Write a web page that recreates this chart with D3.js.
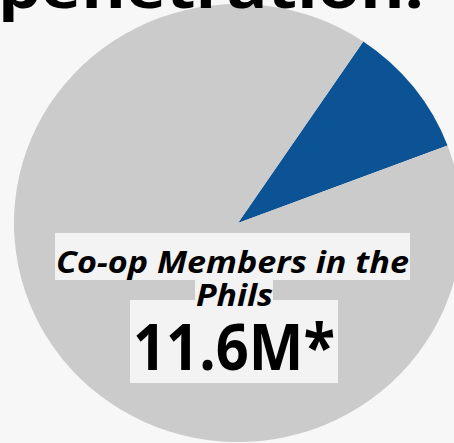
<!DOCTYPE html>
<html>
<head>
<meta charset="utf-8">
<script src="https://cdn.jsdelivr.net/npm/d3@7"></script>
<style>
  html, body { margin: 0; padding: 0; background: #f7f7f7; overflow: hidden; }
  svg { display: block; }
</style>
</head>
<body>
<svg id="chart" width="454" height="443"></svg>
<script>
// Data
const categories = ["Co-op Members", "Others"];
const values = [9.8, 90.2];
const colors = ["#0b5394", "#cbcbcb"];
const titleText = "penetration.";
const labelLines = ["Co-op Members in the", "Phils"];
const bigValue = "11.6M*";

const svg = d3.select("#chart");
const W = 454, H = 443;
svg.append("rect").attr("width", W).attr("height", H).attr("fill", "#f7f7f7");

const cx = 238, cy = 223, R = 219;
const deg = Math.PI / 180;
const startA = 34 * deg;

const pie = d3.pie().sort(null).startAngle(startA).endAngle(startA + 2 * Math.PI);
const arc = d3.arc().innerRadius(0).outerRadius(R);
const color = d3.scaleOrdinal().domain(categories).range(colors);

const data = categories.map((c, i) => ({ cat: c, v: values[i] }));

const g = svg.append("g").attr("transform", `translate(${cx},${cy}) scale(1.023,1)`);
g.selectAll("path")
  .data(pie.value(d => d.v)(data))
  .join("path")
  .attr("d", arc)
  .attr("fill", d => color(d.data.cat));

// Title (cut off at top)
svg.append("text")
  .attr("x", -2).attr("y", 8)
  .attr("font-family", "'Open Sans', sans-serif")
  .attr("font-weight", 700)
  .attr("font-size", 58)
  .attr("textLength", 426)
  .attr("lengthAdjust", "spacingAndGlyphs")
  .attr("fill", "#000")
  .text(titleText);

// Label boxes
const boxFill = "#f3f3f3";
svg.append("rect").attr("x", 55).attr("y", 233).attr("width", 355).attr("height", 47).attr("fill", boxFill);
svg.append("rect").attr("x", 195).attr("y", 280).attr("width", 78).attr("height", 22).attr("fill", boxFill);
svg.append("rect").attr("x", 130).attr("y", 300).attr("width", 208).attr("height", 83).attr("fill", boxFill);

const labStyle = sel => sel
  .attr("font-family", "'Open Sans', sans-serif")
  .attr("font-weight", 700)
  .attr("font-style", "italic")
  .attr("font-size", 31)
  .attr("lengthAdjust", "spacingAndGlyphs")
  .attr("fill", "#000");

svg.append("text").call(labStyle)
  .attr("x", 56).attr("y", 273).attr("textLength", 353)
  .text(labelLines[0]);
svg.append("text").call(labStyle)
  .attr("x", 196).attr("y", 306).attr("textLength", 77)
  .text(labelLines[1]);

svg.append("text")
  .attr("x", 133).attr("y", 370)
  .attr("font-family", "'Open Sans', sans-serif")
  .attr("font-weight", 700)
  .attr("font-size", 65)
  .attr("textLength", 202)
  .attr("lengthAdjust", "spacingAndGlyphs")
  .attr("fill", "#000")
  .text(bigValue);
</script>
</body>
</html>
